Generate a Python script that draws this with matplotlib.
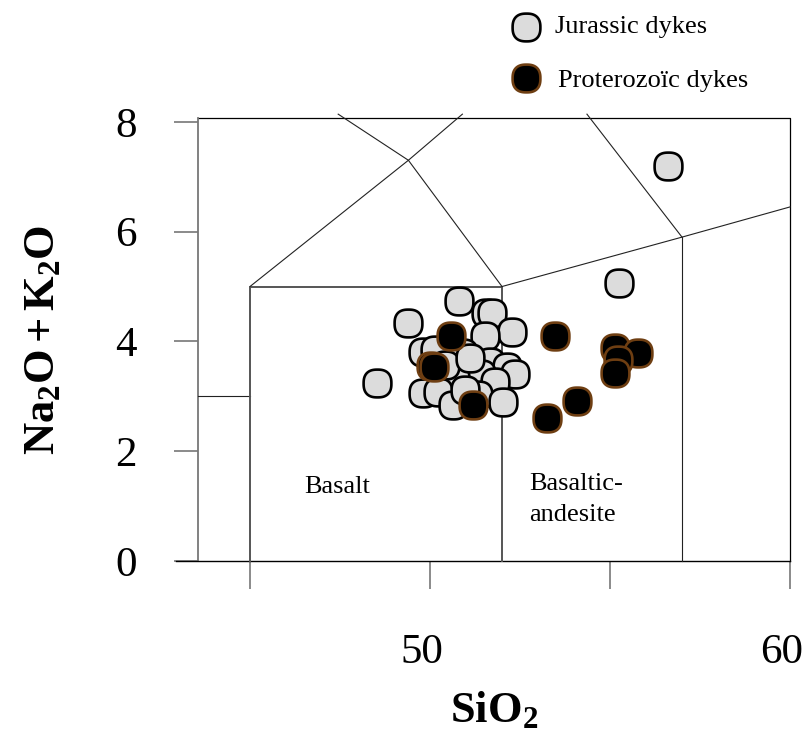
import numpy as np
import matplotlib
matplotlib.use("Agg")
import matplotlib.pyplot as plt
from matplotlib.path import Path
from matplotlib.lines import Line2D
from matplotlib.transforms import ScaledTranslation

plt.rcParams["font.family"] = ["Liberation Serif", "DejaVu Serif"]
plt.rcParams["mathtext.fontset"] = "custom"
plt.rcParams["mathtext.rm"] = "Liberation Serif"
plt.rcParams["mathtext.bf"] = "Liberation Serif:bold"
plt.rcParams["mathtext.it"] = "Liberation Serif:italic"

# Jurassic dykes (SiO2, Na2O+K2O)
jur_sio2 = [50.81, 49.39, 51.56, 51.72, 52.28, 51.53, 49.81, 50.14, 50.92, 51.67,
            52.14, 52.36, 51.42, 50.69, 51.81, 49.81, 50.22, 50.64, 51.33, 52.03,
            48.53, 55.25, 56.61, 50.42, 50.97, 51.10]
jur_alk = [4.74, 4.34, 4.52, 4.52, 4.17, 4.10, 3.81, 3.84, 3.79, 3.62,
           3.53, 3.41, 3.41, 3.33, 3.26, 3.06, 3.08, 2.84, 3.02, 2.90,
           3.24, 5.06, 7.19, 3.57, 3.11, 3.70]

# Proterozoic dykes
pro_sio2 = [50.58, 50.03, 50.11, 51.19, 53.47, 55.14, 55.78, 55.22, 55.14, 54.08, 53.25]
pro_alk = [4.10, 3.55, 3.53, 2.84, 4.10, 3.88, 3.79, 3.66, 3.42, 2.91, 2.60]

# classification field boundaries (as drawn)
field_lines = [
    ([43.556, 45.0], [3.0, 3.0]),
    ([45.0, 45.0, 52.0, 52.0], [0.0, 5.0, 5.0, 0.0]),
    ([57.0, 57.0], [0.0, 5.9]),
    ([52.0, 57.0, 60.0], [5.0, 5.9, 6.45]),
    ([45.0, 49.4, 50.9], [5.0, 7.3, 8.14]),
    ([52.0, 49.4, 47.45], [5.0, 7.3, 8.14]),
    ([57.0, 54.36], [5.9, 8.14]),
]
grey_lines = [1]

# rounded-square marker
t = np.linspace(0, 2 * np.pi, 120)
ex = 2.0 / 2.5
mx = np.sign(np.cos(t)) * np.abs(np.cos(t)) ** ex
my = np.sign(np.sin(t)) * np.abs(np.sin(t)) ** ex
squircle = Path(np.column_stack([mx, my]), closed=True)

fig = plt.figure(figsize=(8.07, 7.4), dpi=100)
ax = fig.add_axes([198 / 807, 1 - 561 / 740, 592 / 807, 443 / 740])
ax.set_xlim(43.556, 60)
ax.set_ylim(0, 8.07)

for s in ["top", "right", "bottom", "left"]:
    ax.spines[s].set_visible(False)

# frame
ax.plot([43.556, 60, 60], [8.07, 8.07, 0], color="black", lw=0.9, clip_on=False)
ax.plot([43.556, 43.556], [0, 8.07], color="#777777", lw=1.3, clip_on=False)
ax.plot([42.95, 60], [0, 0], color="black", lw=1.0, clip_on=False)

for i, (xs, ys) in enumerate(field_lines):
    if i in grey_lines:
        ax.plot(xs, ys, color="#555555", lw=1.4, clip_on=False)
    else:
        ax.plot(xs, ys, color="#222222", lw=0.8, clip_on=False)

ax.plot(jur_sio2, jur_alk, linestyle="none", marker=squircle, markersize=20,
        markerfacecolor="#DCDCDC", markeredgecolor="black", markeredgewidth=1.9)
ax.plot(pro_sio2, pro_alk, linestyle="none", marker=squircle, markersize=20,
        markerfacecolor="black", markeredgecolor="#6E3E12", markeredgewidth=1.9)

ax.text(46.5, 1.35, "Basalt", fontsize=19, va="center", ha="left")
ax.text(52.75, 1.12, "Basaltic-\nandesite", fontsize=19, va="center", ha="left",
        linespacing=1.55)

ax.set_yticks([0, 2, 4, 6, 8])
ax.set_yticklabels(["0", "2", "4", "6", "8"])
ax.set_xticks([45, 50, 55, 60])
ax.set_xticklabels(["", "50", "", "60"])
ax.tick_params(axis="y", direction="out", length=17, width=1.2, color="#777777",
               labelsize=31, pad=27)
ax.tick_params(axis="x", direction="out", length=20, width=1.2, color="#777777",
               labelsize=31, pad=32)
shift = ScaledTranslation(-8 / 100, 0, fig.dpi_scale_trans)
for lab in ax.get_xticklabels():
    lab.set_transform(lab.get_transform() + shift)

ax.set_xlabel(r"$\mathbf{SiO_2}$", fontsize=32, labelpad=13)
ax.set_ylabel(r"$\mathbf{Na_2O + K_2O}$", fontsize=32, labelpad=38)

# legend
fig.add_artist(Line2D([526 / 807], [1 - 27 / 740], transform=fig.transFigure,
                      marker=squircle, markersize=20, markerfacecolor="#DCDCDC",
                      markeredgecolor="black", markeredgewidth=1.9))
fig.add_artist(Line2D([526 / 807], [1 - 78 / 740], transform=fig.transFigure,
                      marker=squircle, markersize=20, markerfacecolor="black",
                      markeredgecolor="#6E3E12", markeredgewidth=1.9))
fig.text(555 / 807, 1 - 27 / 740, "Jurassic dykes", fontsize=19, va="center", ha="left")
fig.text(558 / 807, 1 - 81 / 740, "Proterozoïc dykes", fontsize=19, va="center", ha="left")

fig.savefig("out.png", dpi=100)
